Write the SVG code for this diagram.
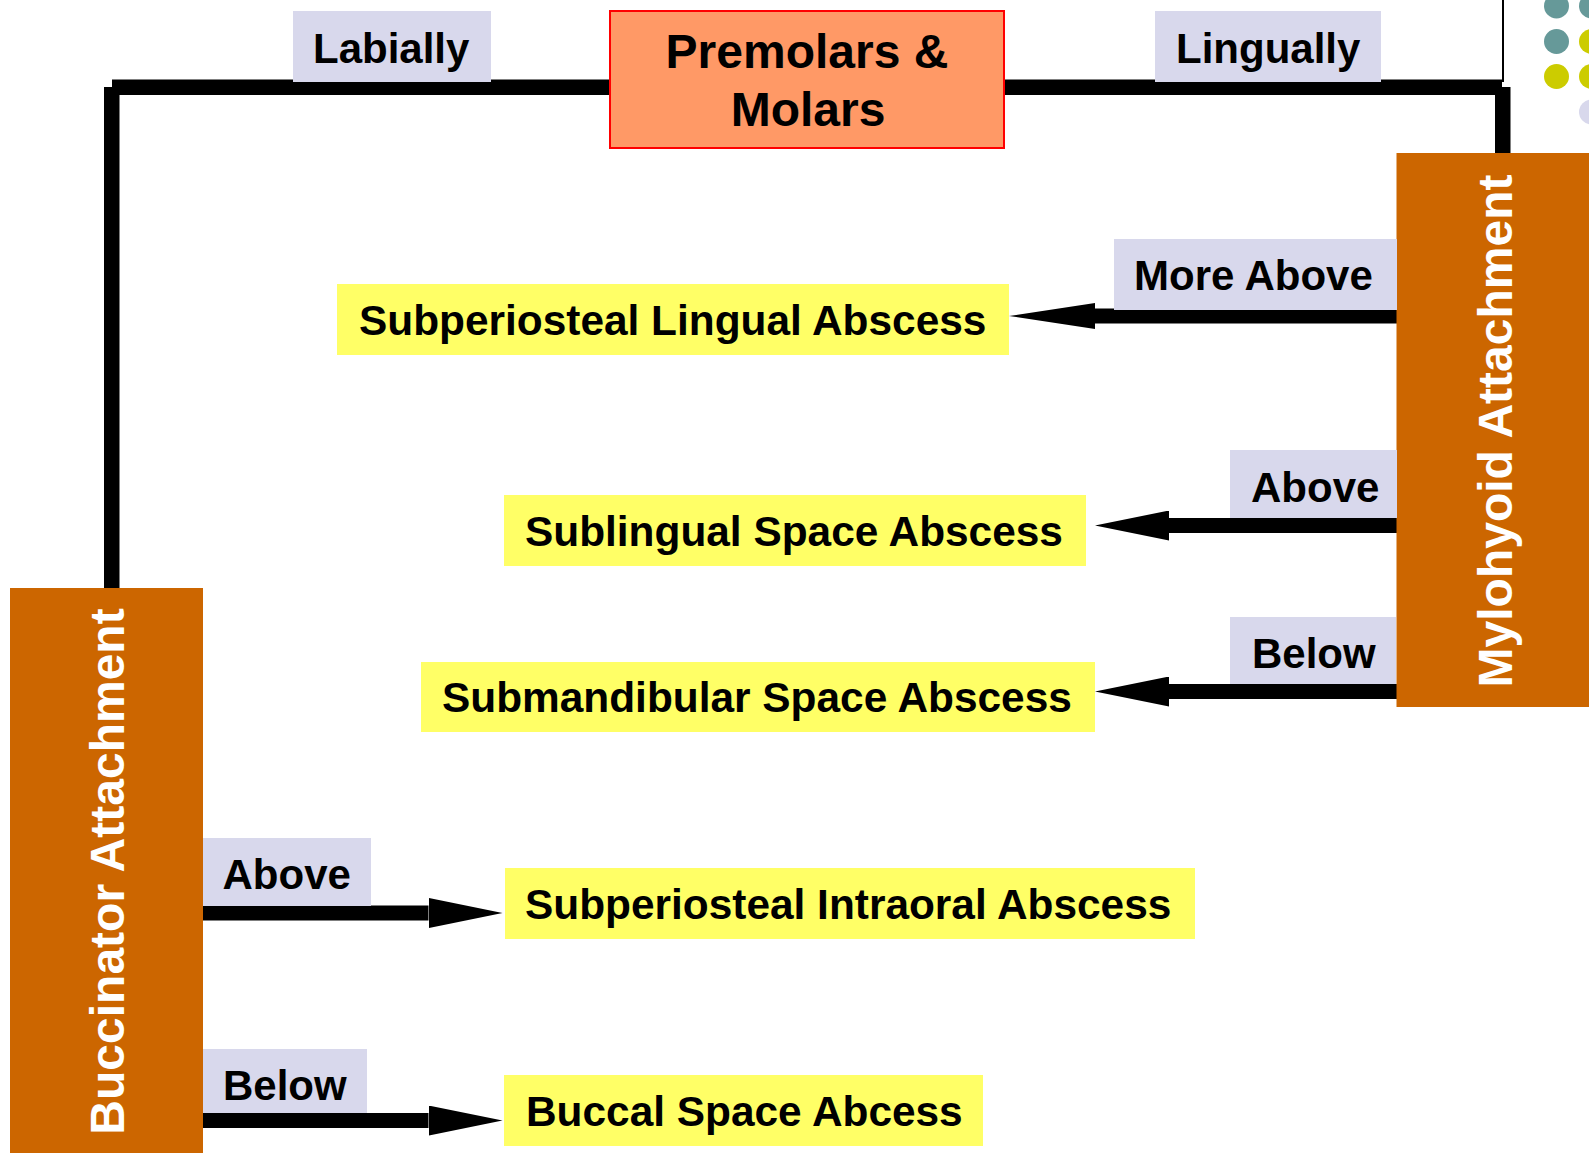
<svg xmlns="http://www.w3.org/2000/svg" width="1589" height="1153" viewBox="0 0 1589 1153">
  <style>
    text { font-family: "Liberation Sans", Arial, sans-serif; font-weight: bold; }
    .lbl { fill: #D8D8EC; }
    .lbl-t { font-size: 42px; fill: #000; }
    .res { fill: #FFFF66; }
    .res-t { font-size: 42.4px; fill: #000; }
    .muscle { fill: #CC6600; }
    .muscle-t { font-size: 48px; fill: #FFFFFF; text-anchor: middle; }
    .wire { fill: #000; }
    .arrow { stroke: #000; stroke-width: 15; fill: none; stroke-linecap: butt; }
  </style>
  <defs>
    <marker id="head" viewBox="0 0 74 30" refX="0" refY="15" markerWidth="74" markerHeight="30" markerUnits="userSpaceOnUse" orient="auto">
      <path d="M0,0 L74,15 L0,30 Z" fill="#000"/>
    </marker>
    <marker id="head-long" viewBox="0 0 86 26" refX="0" refY="13" markerWidth="86" markerHeight="26" markerUnits="userSpaceOnUse" orient="auto">
      <path d="M0,0 L86,13 L0,26 Z" fill="#000"/>
    </marker>
  </defs>

  <rect width="1589" height="1153" fill="#FFFFFF"/>

  <!-- decorative dot grid and divider at the top right -->
  <g id="decor">
    <line x1="1503" y1="0" x2="1503" y2="82" stroke="#000" stroke-width="2"/>
    <circle cx="1556.5" cy="6" r="12.5" fill="#669999"/>
    <circle cx="1556.5" cy="41.5" r="12.5" fill="#669999"/>
    <circle cx="1556.5" cy="76.5" r="12.5" fill="#CCCC00"/>
    <circle cx="1591.5" cy="6" r="12.5" fill="#669999"/>
    <circle cx="1591.5" cy="41.5" r="12.5" fill="#CCCC00"/>
    <circle cx="1591.5" cy="76.5" r="12.5" fill="#CCCC00"/>
    <circle cx="1591.5" cy="112" r="12.5" fill="#D8D8EC"/>
  </g>

  <!-- connectors -->
  <g id="connectors">
    <!-- frame from the tooth box out to both attachments -->
    <rect class="wire" x="112" y="79.5" width="1390" height="15.5"/>
    <rect class="wire" x="104" y="87" width="15.5" height="502"/>
    <rect class="wire" x="1495" y="87" width="15.5" height="67"/>
    <!-- mylohyoid branches -->
    <line class="arrow" x1="1397" y1="316" x2="1095" y2="316" stroke-width="12.5" marker-end="url(#head-long)"/>
    <line class="arrow" x1="1397" y1="525.5" x2="1169" y2="525.5" marker-end="url(#head)"/>
    <line class="arrow" x1="1397" y1="691.5" x2="1169" y2="691.5" marker-end="url(#head)"/>
    <!-- buccinator branches -->
    <line class="arrow" x1="203" y1="913" x2="428.5" y2="913" marker-end="url(#head)"/>
    <line class="arrow" x1="203" y1="1120.5" x2="428.5" y2="1120.5" marker-end="url(#head)"/>
  </g>

  <!-- origin -->
  <g id="premolars-molars">
    <rect x="610" y="11" width="394" height="137" fill="#FF9966" stroke="#FF0000" stroke-width="2"/>
    <text x="807" y="68" font-size="48" text-anchor="middle">Premolars &amp;</text>
    <text x="808" y="126" font-size="48" text-anchor="middle">Molars</text>
  </g>

  <!-- path labels -->
  <g id="label-labially">
    <rect class="lbl" x="293" y="11" width="198" height="71"/>
    <text class="lbl-t" x="313" y="63">Labially</text>
  </g>
  <g id="label-lingually">
    <rect class="lbl" x="1155" y="11" width="226" height="71"/>
    <text class="lbl-t" x="1176" y="63">Lingually</text>
  </g>

  <!-- muscle attachments -->
  <g id="mylohyoid-attachment">
    <rect class="muscle" x="1396.5" y="153" width="200" height="554"/>
    <text class="muscle-t" transform="translate(1512,431) rotate(-90)">Mylohyoid Attachment</text>
  </g>
  <g id="buccinator-attachment">
    <rect class="muscle" x="10" y="588" width="193" height="570"/>
    <text class="muscle-t" font-size="47.5" transform="translate(124,871.5) rotate(-90)">Buccinator Attachment</text>
  </g>

  <!-- branch labels -->
  <g id="label-more-above">
    <rect class="lbl" x="1114" y="239" width="283" height="71"/>
    <text class="lbl-t" x="1134" y="290">More Above</text>
  </g>
  <g id="label-above-mylohyoid">
    <rect class="lbl" x="1230" y="450" width="167" height="68"/>
    <text class="lbl-t" x="1251" y="501.5">Above</text>
  </g>
  <g id="label-below-mylohyoid">
    <rect class="lbl" x="1230" y="617" width="166" height="67"/>
    <text class="lbl-t" x="1252" y="667.5">Below</text>
  </g>
  <g id="label-above-buccinator">
    <rect class="lbl" x="203" y="838" width="168" height="68"/>
    <text class="lbl-t" x="222.5" y="889">Above</text>
  </g>
  <g id="label-below-buccinator">
    <rect class="lbl" x="203" y="1049" width="164" height="64"/>
    <text class="lbl-t" x="223" y="1100">Below</text>
  </g>

  <!-- resulting abscesses -->
  <g id="subperiosteal-lingual">
    <rect class="res" x="337" y="284" width="672" height="71"/>
    <text class="res-t" x="359" y="335">Subperiosteal Lingual Abscess</text>
  </g>
  <g id="sublingual-space">
    <rect class="res" x="504" y="495" width="582" height="71"/>
    <text class="res-t" x="525" y="546">Sublingual Space Abscess</text>
  </g>
  <g id="submandibular-space">
    <rect class="res" x="421" y="662" width="674" height="70"/>
    <text class="res-t" x="442" y="712">Submandibular Space Abscess</text>
  </g>
  <g id="subperiosteal-intraoral">
    <rect class="res" x="505" y="868" width="690" height="71"/>
    <text class="res-t" x="525" y="919">Subperiosteal Intraoral Abscess</text>
  </g>
  <g id="buccal-space">
    <rect class="res" x="504" y="1075" width="479" height="71"/>
    <text class="res-t" x="526" y="1125.5">Buccal Space Abcess</text>
  </g>
</svg>
